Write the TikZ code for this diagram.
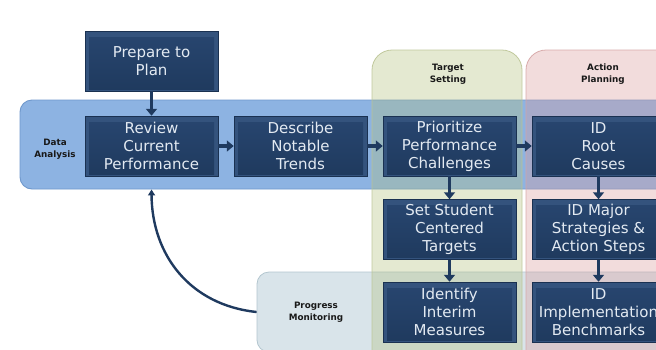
\documentclass[tikz,border=0pt]{standalone}
\usepackage{fontspec}
\setmainfont{DejaVu Sans}
\usetikzlibrary{arrows.meta}
\definecolor{navy}{HTML}{1F3A5F}
\definecolor{boxedge}{HTML}{34537D}
\definecolor{boxtop}{HTML}{284670}
\definecolor{boxbot}{HTML}{1F3A5E}
\definecolor{boxtext}{HTML}{E3EAF2}
\definecolor{bandblue}{HTML}{8DB3E2}
\definecolor{bandline}{HTML}{6F98CC}
\definecolor{progfill}{HTML}{D9E4EA}
\definecolor{progline}{HTML}{B3C6CF}
\definecolor{tgtfill}{HTML}{B2C07E}
\definecolor{tgtline}{HTML}{BCC596}
\definecolor{actfill}{HTML}{DA9B9B}
\definecolor{actline}{HTML}{D6A6A6}
\tikzset{
  x=1pt, y=-1pt,
  stepbox/.style={rectangle, minimum width=133pt, minimum height=60pt, inner sep=0pt,
    align=center, fill=boxedge, draw=navy!85!black, line width=0.5pt,
    font=\fontsize{15}{18}\selectfont, text=boxtext,
    path picture={\shade[top color=boxtop, bottom color=boxbot]
       ([xshift=4pt,yshift=-6pt]path picture bounding box.north west)
       rectangle ([xshift=-4pt,yshift=2pt]path picture bounding box.south east);}},
  bandbox/.style={rectangle, rounded corners=12pt, inner sep=0pt},
  colbox/.style={rectangle, rounded corners=20pt, inner sep=0pt, fill opacity=0.35, draw opacity=0.9, line width=0.8pt},
  lbl/.style={font=\bfseries\fontsize{8.8}{12.5}\selectfont, align=center, text=black!90},
  arr/.style={draw=navy, line width=3.4pt, -{Triangle[width=11pt,length=7pt]}},
  curvarr/.style={draw=navy, line width=2.4pt, -{Triangle[width=7pt,length=6pt]}}
}
\begin{document}
\begin{tikzpicture}
\useasboundingbox (0,0) rectangle (656,349);
\fill[white] (0,0) rectangle (656,349);
% bands
\node[bandbox, fill=progfill, draw=progline, line width=0.8pt, minimum width=423pt, minimum height=80pt] (prog) at (468.5,312) {};
\node[bandbox, fill=bandblue, draw=bandline, line width=0.9pt, minimum width=650pt, minimum height=89pt] (data) at (345,144.5) {};
% columns
\node[colbox, fill=tgtfill, draw=tgtline, minimum width=150pt, minimum height=320pt] (tgt) at (447,210) {};
\node[colbox, fill=actfill, draw=actline, minimum width=160pt, minimum height=320pt] (act) at (606,210) {};
% labels
\node[lbl] (ldata) at (55,149) {Data\\Analysis};
\node[lbl] (lprog) at (316,312) {Progress\\Monitoring};
\node[lbl] (ltgt) at (448,74) {Target\\Setting};
\node[lbl] (lact) at (603,74) {Action\\Planning};
% boxes
\node[stepbox] (prep) at (151.5,61) {Prepare to\\Plan};
\node[stepbox] (review) at (151.5,146) {Review\\Current\\Performance};
\node[stepbox] (describe) at (300.5,146) {Describe\\Notable\\Trends};
\node[stepbox] (prior) at (449.5,146) {Prioritize\\Performance\\Challenges};
\node[stepbox] (root) at (598.5,146) {ID\\Root\\Causes};
\node[stepbox] (set) at (449.5,229.5) {Set Student\\Centered\\Targets};
\node[stepbox] (ident) at (449.5,312) {Identify\\Interim\\Measures};
\node[stepbox] (major) at (598.5,229.5) {ID Major\\Strategies \&\\Action Steps};
\node[stepbox] (impl) at (598.5,312) {ID\\Implementation\\Benchmarks};
% arrows
\draw[arr] (prep) -- (review);
\draw[arr] (review) -- (describe);
\draw[arr] (describe) -- (prior);
\draw[arr] (prior) -- (root);
\draw[arr] (prior) -- (set);
\draw[arr] (set) -- (ident);
\draw[arr] (root) -- (major);
\draw[arr] (major) -- (impl);
\draw[curvarr] (prog.west) .. controls (190,305) and (152,255) .. (data.south -| review);
\end{tikzpicture}
\end{document}
